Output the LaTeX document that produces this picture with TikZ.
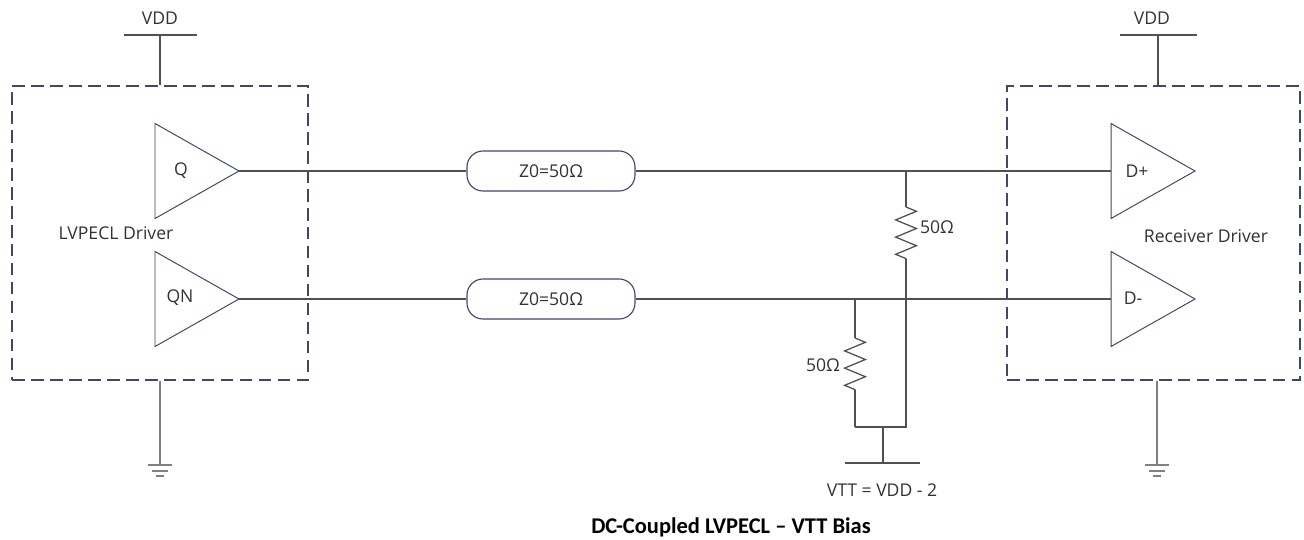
\documentclass[tikz,border=0pt]{standalone}
\usepackage{fontspec}
\setmainfont{Open Sans}
\newfontfamily\titlefont{Carlito}
\usetikzlibrary{calc,decorations.pathmorphing,positioning,shapes}

\definecolor{wire}{RGB}{80,80,80}
\definecolor{outline}{RGB}{62,72,104}
\definecolor{gndgray}{RGB}{128,128,128}
\definecolor{txt}{RGB}{50,50,50}

% ground symbol hanging below a coordinate
\newcommand*\groundat[1]{%
  \draw[gndgray] (#1) ++(-12,0) -- ++(24,0)
                 (#1) ++(-8,6) -- ++(16,0)
                 (#1) ++(-4,11) -- ++(8,0);}

\begin{document}
\begin{tikzpicture}[x=0.25mm,y=-0.25mm,line width=0.9pt,
				every node/.style={text=txt,font=\fontsize{12.5}{15}\selectfont}
				,amp/.style={draw=outline, line width=0.7pt, isosceles triangle, isosceles triangle stretches,
					minimum width=23.75mm, minimum height=21mm, inner sep=0pt, outer sep=0pt}
				,tline/.style={draw=outline, line width=0.8pt, rounded corners=4mm, minimum width=42mm,
					minimum height=10mm, inner sep=0pt}
				,chip/.style={draw=outline, line width=0.8pt, dash pattern=on 9pt off 4.5pt, inner sep=0pt}
				,res/.style={decorate, decoration={zigzag, amplitude=2.6mm, segment length=4.3mm}}
				]
				\useasboundingbox (0,0) rectangle (1304,539);

				% driver and receiver blocks
				\node[chip, minimum width=74mm, minimum height=73.5mm] (drv) at (160,233) {};
				\node[chip, minimum width=73.25mm, minimum height=73.5mm] (rcv) at (1153.5,233) {};
				\node (drvname) at (116,233) {LVPECL Driver};
				\node (rcvname) at (1206,236) {Receiver Driver};

				\node[amp, anchor=apex] (q) at (239,171) {};
				\node[amp, anchor=apex] (qn) at (239,299) {};
				\node[amp, anchor=apex] (dp) at (1195,171) {};
				\node[amp, anchor=apex] (dm) at (1195,299) {};
				\node (qtxt) at (181,171) {Q};
				\node (qntxt) at (180,298) {QN};
				\node (dptxt) at (1137,171) {D+};
				\node (dmtxt) at (1133,298) {D-};

				% supplies
				\node (vddL) at (160,18) {VDD};
				\node (vddR) at (1152,18) {VDD};
				\coordinate (vddLbar) at (160,35);
				\coordinate (vddRbar) at (1158,35);
				\draw[wire] (vddLbar) ++(-36,0) -- ++(73,0);
				\draw[wire] (vddRbar) ++(-38,0) -- ++(77,0);
				\draw[wire] (vddLbar) -- (drv.north);
				\draw[wire] (vddRbar) -- (vddRbar |- rcv.north);

				\coordinate (gndL) at (160,465);
				\coordinate (gndR) at (1157,465);
				\draw[gndgray] (drv.south) -- (gndL);
				\draw[gndgray] (gndR |- rcv.south) -- (gndR);
				\groundat{gndL}
				\groundat{gndR}

				% transmission lines
				\node[tline] (tlp) at (551,171) {Z0=50Ω};
				\node[tline] (tln) at (551,299) {Z0=50Ω};
				\draw[wire] (q.apex) -- (tlp.west);
				\draw[wire] (qn.apex) -- (tln.west);
				\draw[wire] (tlp.east) -- (dp.lower side);
				\draw[wire] (tln.east) -- (dm.lower side);

				% termination to VTT
				\coordinate (r1a) at (906,207);
				\coordinate (r1b) at (906,259);
				\coordinate (r1c) at (906,427);
				\coordinate (r2a) at (855,338);
				\coordinate (r2b) at (855,390);
				\coordinate (r2c) at (855,427);
				\coordinate (vtt) at (883,463);
				\draw[wire] (tlp.east -| r1a) -- (r1a);
				\draw[wire,res] (r1a) -- (r1b);
				\draw[wire] (r1b) -- (r1c) -- (r2c);
				\draw[wire] (tln.east -| r2a) -- (r2a);
				\draw[wire,res] (r2a) -- (r2b);
				\draw[wire] (r2b) -- (r2c);
				\draw[wire] (vtt |- r1c) -- (vtt);
				\draw[wire] (vtt) ++(-38,0) -- ++(75,0);
				\node (r1val) at (937,227) {50Ω};
				\node (r2val) at (823,365) {50Ω};
				\node (vttval) at (882,490) {VTT = VDD - 2};

				\node[text=black, font=\titlefont\bfseries\fontsize{16}{19}\selectfont] (title) at (731,527)
					{DC-Coupled LVPECL \textendash{} VTT Bias};
			\end{tikzpicture}
\end{document}
